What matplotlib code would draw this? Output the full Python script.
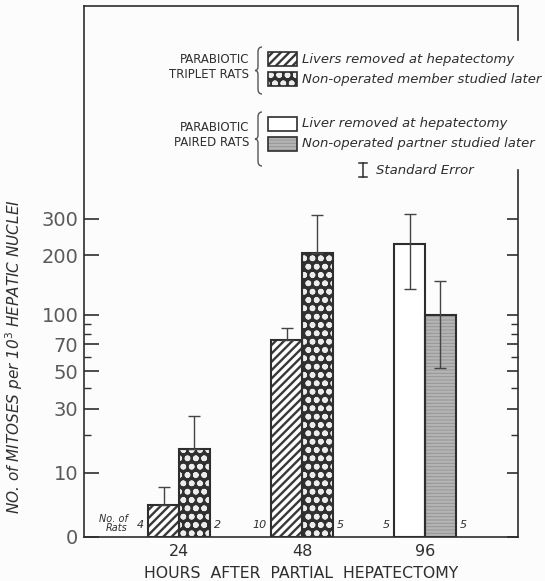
import numpy as np
import matplotlib.pyplot as plt
from matplotlib.patches import Rectangle, PathPatch
from matplotlib.path import Path
from matplotlib.lines import Line2D

# hours after partial hepatectomy
hours = ["24", "48", "96"]

# parabiotic triplet rats (24 h and 48 h)
triplet_removed = [4.2, 74]
triplet_removed_se = [3, 11]
triplet_later = [16, 204]
triplet_later_se = [11, 110]
triplet_n_removed = [4, 10]
triplet_n_later = [2, 5]

# parabiotic paired rats (96 h)
paired_removed = [226]
paired_removed_se = [90]
paired_later = [100]
paired_later_se = [48]
paired_n_removed = [5]
paired_n_later = [5]

yticks = [0, 10, 30, 50, 70, 100, 200, 300]
yminor = [20, 40, 60, 80, 90]

W, H = 545, 581
ink = "#2e2e2e"
bg = "#fcfcfc"

plt.rcParams["hatch.linewidth"] = 1.7


def fwd(y):
    return np.log10(np.asarray(y, dtype=float) + 10)


def inv(t):
    return 10 ** np.asarray(t, dtype=float) - 10


def fx(x):
    return x / W


def fy(y):
    return 1 - y / H


def brace(x, ytop, ybot):
    ym = (ytop + ybot) / 2
    pts = [(x + 7, ytop), (x + 3, ytop), (x + 3, ytop + 5),
           (x + 3, ym - 4),
           (x + 3, ym), (x, ym), (x, ym),
           (x + 3, ym), (x + 3, ym + 4),
           (x + 3, ybot - 5),
           (x + 3, ybot), (x + 7, ybot)]
    codes = [Path.MOVETO, Path.CURVE3, Path.CURVE3, Path.LINETO,
             Path.CURVE3, Path.CURVE3, Path.LINETO,
             Path.CURVE3, Path.CURVE3, Path.LINETO,
             Path.CURVE3, Path.CURVE3]
    verts = [(fx(a), fy(b)) for a, b in pts]
    fig.add_artist(PathPatch(Path(verts, codes), fill=False, edgecolor="#555555", lw=1.0,
                             transform=fig.transFigure))


fig = plt.figure(figsize=(W / 100, H / 100), dpi=100, facecolor=bg)
ax = fig.add_axes([fx(84), fy(537), fx(518) - fx(84), fy(6) - fy(537)])
ax.set_facecolor(bg)
ax.set_yscale("function", functions=(fwd, inv))
ax.set_ylim(0, 3080)

w = 0.25
xg = np.arange(len(hours))
ax.set_xlim(-0.772, 2.756)

styles = {
    "removed3": dict(color="white", hatch="////", edgecolor="#383838"),
    "later3": dict(color="#303030", hatch="oo", edgecolor="#ececec"),
    "removed2": dict(color="white", hatch=None, edgecolor="white"),
    "later2": dict(color="#959595", hatch="-----", edgecolor="#b4b4b4"),
}


def draw_bar(xs, vals, key):
    ax.bar(xs, vals, w, linewidth=0, zorder=2, **styles[key])
    ax.bar(xs, vals, w, fill=False, edgecolor=ink, linewidth=1.5, zorder=3)


x_r3 = xg[:2] - w / 2
x_l3 = xg[:2] + w / 2
x_r2 = xg[2:] - w / 2
x_l2 = xg[2:] + w / 2

draw_bar(x_r3, triplet_removed, "removed3")
draw_bar(x_l3, triplet_later, "later3")
draw_bar(x_r2, paired_removed, "removed2")
draw_bar(x_l2, paired_later, "later2")

eb = dict(fmt="none", ecolor="#444444", elinewidth=1.0, capsize=4, capthick=1.0, zorder=4)
ax.errorbar(x_r3, triplet_removed, yerr=[np.zeros(2), triplet_removed_se], **eb)
ax.errorbar(x_l3, triplet_later, yerr=[np.zeros(2), triplet_later_se], **eb)
ax.errorbar(x_r2, paired_removed, yerr=[paired_removed_se, paired_removed_se], **eb)
ax.errorbar(x_l2, paired_later, yerr=[paired_later_se, paired_later_se], **eb)

# number of rats
nt = dict(fontsize=8, style="italic", color=ink, va="center")
for xs, ns, side in [(x_r3, triplet_n_removed, -1), (x_l3, triplet_n_later, 1),
                     (x_r2, paired_n_removed, -1), (x_l2, paired_n_later, 1)]:
    for x, n in zip(xs, ns):
        ax.annotate(str(n), (x + side * w / 2, 0), xytext=(side * 3, 9),
                    textcoords="offset points", ha="right" if side < 0 else "left", **nt)
ax.annotate("No. of\nRats", (x_r3[0] - w / 2, 0), xytext=(-15, 10), textcoords="offset points",
            ha="right", fontsize=7, style="italic", color=ink, va="center", linespacing=0.9)

# axes styling
ax.set_yticks(yticks)
ax.set_yticklabels([str(t) for t in yticks], fontsize=14, color="#5a5a5a")
ax.set_yticks(yminor, minor=True)
ax.tick_params(axis="y", which="major", direction="in", length=11, width=1.2, pad=4, color=ink)
ax.tick_params(axis="y", which="minor", direction="in", length=5, width=1.0, color=ink)
ax.set_xticks(xg)
ax.set_xticklabels(hours, fontsize=11.5, color=ink)
ax.tick_params(axis="x", length=0, pad=5)
ax.set_xlabel("HOURS  AFTER  PARTIAL  HEPATECTOMY", fontsize=11.3, color=ink, labelpad=5)
ax.set_ylabel("NO. of MITOSES per 10$^3$ HEPATIC NUCLEI", fontsize=11, style="italic",
              color=ink)
ax.yaxis.set_label_coords(-0.135, 0.34)
for s in ax.spines.values():
    s.set_color(ink)
    s.set_linewidth(1.2)
ax.spines["right"].set_visible(False)
ax.plot([1, 1], [0, (537 - 170) / 531], transform=ax.transAxes, color=ink, lw=1.2, clip_on=False)
ax.plot([1, 1], [(537 - 40) / 531, 1], transform=ax.transAxes, color=ink, lw=1.2, clip_on=False)

ax2 = ax.twinx()
ax2.set_yscale("function", functions=(fwd, inv))
ax2.set_ylim(ax.get_ylim())
ax2.set_yticks(yticks)
ax2.set_yticks(yminor, minor=True)
ax2.tick_params(axis="y", which="major", direction="in", length=8, width=1.2, labelright=False, color=ink)
ax2.tick_params(axis="y", which="minor", direction="in", length=5, width=1.0, labelright=False, color=ink)
for s in ax2.spines.values():
    s.set_visible(False)

# key
grp = dict(fontsize=8.5, color=ink, ha="right", va="center", linespacing=1.2)
lab = dict(fontsize=9.5, style="italic", color=ink, ha="left", va="center")
fig.text(fx(249), fy(67), "PARABIOTIC\nTRIPLET RATS", **grp)
fig.text(fx(249), fy(135), "PARABIOTIC\nPAIRED RATS", **grp)
brace(255, 47, 94)
brace(255, 112, 166)
keys = [("removed3", 59, "Livers removed at hepatectomy"),
        ("later3", 79, "Non-operated member studied later"),
        ("removed2", 124, "Liver removed at hepatectomy"),
        ("later2", 144, "Non-operated partner studied later")]
for key, yc, text in keys:
    st = styles[key]
    fig.add_artist(Rectangle((fx(268), fy(yc + 7)), fx(29), 14 / H, transform=fig.transFigure,
                             facecolor=st["color"], hatch=st["hatch"], edgecolor=st["edgecolor"],
                             linewidth=0))
    fig.add_artist(Rectangle((fx(268), fy(yc + 7)), fx(29), 14 / H, transform=fig.transFigure,
                             fill=False, edgecolor=ink, linewidth=1.2))
    fig.text(fx(302), fy(yc), text, **lab)
fig.add_artist(Line2D([fx(363), fx(363)], [fy(163), fy(177)], color=ink, lw=1.1))
fig.add_artist(Line2D([fx(359), fx(367)], [fy(163), fy(163)], color=ink, lw=1.1))
fig.add_artist(Line2D([fx(359), fx(367)], [fy(177), fy(177)], color=ink, lw=1.1))
fig.text(fx(376), fy(170), "Standard Error", **lab)

fig.savefig("out.png", dpi=100, facecolor=bg)
